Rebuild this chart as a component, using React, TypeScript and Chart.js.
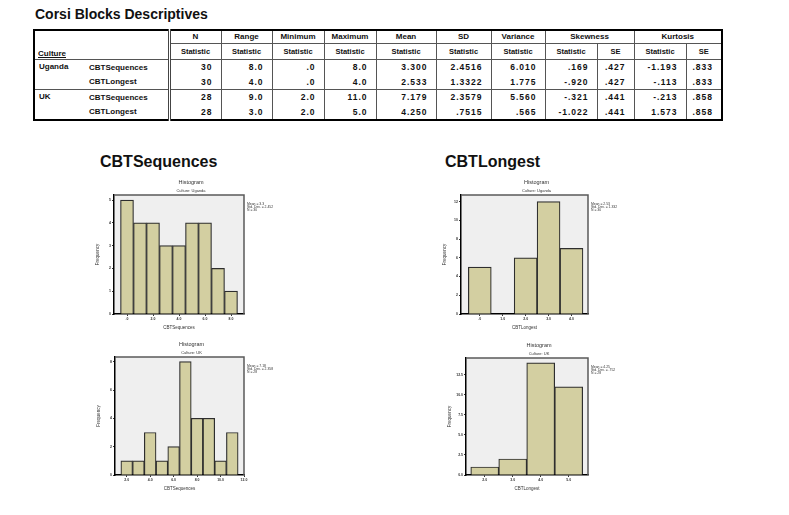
import React, { useEffect, useRef } from "react";
import { Chart, registerables } from "chart.js";

Chart.register(...registerables);

// ---------- Table data ----------
const pageTitle = "Corsi Blocks Descriptives";
const topHeaders = ["N", "Range", "Minimum", "Maximum", "Mean", "SD", "Variance"];
const spanHeaders = ["Skewness", "Kurtosis"];
const subHeaders = ["Statistic", "Statistic", "Statistic", "Statistic", "Statistic", "Statistic", "Statistic", "Statistic", "SE", "Statistic", "SE"];
const cultures = ["Uganda", "UK"];
const variables = ["CBTSequences", "CBTLongest"];
const ugandaSeqRow = ["30", "8.0", ".0", "8.0", "3.300", "2.4516", "6.010", ".169", ".427", "-1.193", ".833"];
const ugandaLongRow = ["30", "4.0", ".0", "4.0", "2.533", "1.3322", "1.775", "-.920", ".427", "-.113", ".833"];
const ukSeqRow = ["28", "9.0", "2.0", "11.0", "7.179", "2.3579", "5.560", "-.321", ".441", "-.213", ".858"];
const ukLongRow = ["28", "3.0", "2.0", "5.0", "4.250", ".7515", ".565", "-1.022", ".441", "1.573", ".858"];

// ---------- Histogram data ----------
const ugSeqBins = [0, 1, 2, 3, 4, 5, 6, 7, 8];
const ugSeqFreq = [5, 4, 4, 3, 3, 4, 4, 2, 1];
const ugSeqXTicks = [0, 2, 4, 6, 8];
const ugSeqYTicks = [0, 1, 2, 3, 4, 5];
const ugSeqStats = ["Mean = 3.3", "Std. Dev. = 2.452", "N = 30"];

const ugLongBins = [0, 1, 2, 3, 4];
const ugLongFreq = [5, 0, 6, 12, 7];
const ugLongXTicks = [0, 1, 2, 3, 4];
const ugLongYTicks = [0, 2, 4, 6, 8, 10, 12];
const ugLongStats = ["Mean = 2.53", "Std. Dev. = 1.332", "N = 30"];

const ukSeqBins = [2, 3, 4, 5, 6, 7, 8, 9, 10, 11];
const ukSeqFreq = [1, 1, 3, 1, 2, 8, 4, 4, 1, 3];
const ukSeqXTicks = [2, 4, 6, 8, 10, 12];
const ukSeqYTicks = [0, 2, 4, 6, 8];
const ukSeqStats = ["Mean = 7.18", "Std. Dev. = 2.358", "N = 28"];

const ukLongBins = [2, 3, 4, 5];
const ukLongFreq = [1, 2, 14, 11];
const ukLongXTicks = [2, 3, 4, 5];
const ukLongYTicks = [0, 2.5, 5, 7.5, 10, 12.5];
const ukLongStats = ["Mean = 4.25", "Std. Dev. = .752", "N = 28"];

const FONT = '"Liberation Sans", Arial, sans-serif';

const fmtDec1 = (v: number) => (v === 0 ? ".0" : v.toFixed(1));
const fmtInt = (v: number) => String(v);
const fmtDec1Zero = (v: number) => v.toFixed(1);

type HistProps = {
  box: [number, number, number, number];
  bins: number[];
  freq: number[];
  xMin: number;
  xMax: number;
  yMax: number;
  xTicks: number[];
  yTicks: number[];
  xFmt: (v: number) => string;
  yFmt: (v: number) => string;
  xTitle: string;
  culture: string;
  stats: string[];
};

const PAD_L = 24;
const PAD_T = 22;
const PAD_R = 48;
const PAD_B = 18;

function Histogram(p: HistProps) {
  const ref = useRef<HTMLCanvasElement>(null);
  const [l, t, r, b] = p.box;
  const w = r - l + PAD_L + PAD_R;
  const h = b - t + PAD_T + PAD_B;

  useEffect(() => {
    const decor = {
      id: "decor",
      beforeDraw(chart: any) {
        const { ctx, chartArea: a } = chart;
        ctx.save();
        ctx.fillStyle = "#EFEFEF";
        ctx.fillRect(a.left, a.top, a.right - a.left, a.bottom - a.top);
        ctx.restore();
      },
      afterDraw(chart: any) {
        const { ctx, chartArea: a } = chart;
        ctx.save();
        ctx.strokeStyle = "#5a5a5a";
        ctx.lineWidth = 1.5;
        ctx.beginPath();
        ctx.moveTo(a.left, a.top);
        ctx.lineTo(a.right, a.top);
        ctx.lineTo(a.right, a.bottom);
        ctx.stroke();
        ctx.fillStyle = "#333";
        ctx.textAlign = "center";
        ctx.textBaseline = "middle";
        const cx = (a.left + a.right) / 2 + 12;
        ctx.font = `5.5px ${FONT}`;
        ctx.fillText("Histogram", cx, a.top - 13);
        ctx.font = `4px ${FONT}`;
        ctx.fillText(`Culture: ${p.culture}`, cx, a.top - 4);
        ctx.textAlign = "left";
        ctx.font = `3.4px ${FONT}`;
        p.stats.forEach((s, i) => ctx.fillText(s, a.right + 3, a.top + 9 + i * 3));
        ctx.restore();
      },
    };

    const chart = new Chart(ref.current!, {
      type: "bar",
      data: {
        datasets: [
          {
            data: p.bins.map((x, i) => ({ x, y: p.freq[i] })),
            backgroundColor: "#D3CFA1",
            borderColor: "#2e2e2e",
            borderWidth: 1.2,
            barPercentage: 1,
            categoryPercentage: 1,
          },
        ],
      },
      options: {
        responsive: false,
        animation: false,
        layout: { padding: { left: PAD_L - 22, top: PAD_T, right: PAD_R, bottom: PAD_B - 16 } },
        plugins: { legend: { display: false }, tooltip: { enabled: false }, title: { display: false } },
        scales: {
          x: {
            type: "linear",
            offset: false,
            min: p.xMin,
            max: p.xMax,
            afterBuildTicks: (s: any) => {
              s.ticks = p.xTicks.map((v) => ({ value: v }));
            },
            afterFit: (s: any) => {
              s.height = 16;
            },
            grid: { display: true, drawOnChartArea: false, drawTicks: true, tickLength: 2, color: "#000", lineWidth: 0.8, offset: false },
            border: { display: true, color: "#000", width: 1.5 },
            ticks: {
              autoSkip: false,
              maxRotation: 0,
              padding: 1,
              color: "#333",
              font: { family: FONT, size: 3.5, weight: "bold" },
              callback: (v: any) => p.xFmt(Number(v)),
            },
            title: { display: true, text: p.xTitle, color: "#333", padding: 0, font: { family: FONT, size: 4.5 } },
          },
          y: {
            type: "linear",
            min: 0,
            max: p.yMax,
            afterBuildTicks: (s: any) => {
              s.ticks = p.yTicks.map((v) => ({ value: v }));
            },
            afterFit: (s: any) => {
              s.width = 22;
            },
            grid: { display: true, drawOnChartArea: false, drawTicks: true, tickLength: 2, color: "#000", lineWidth: 0.8 },
            border: { display: true, color: "#000", width: 1.5 },
            ticks: {
              autoSkip: false,
              padding: 1,
              color: "#333",
              font: { family: FONT, size: 3.5, weight: "bold" },
              callback: (v: any) => p.yFmt(Number(v)),
            },
            title: { display: true, text: "Frequency", color: "#333", padding: { top: 3, bottom: 0 }, font: { family: FONT, size: 4.5 } },
          },
        },
      },
      plugins: [decor],
    } as any);
    return () => chart.destroy();
  }, []);

  return (
    <canvas
      ref={ref}
      width={w}
      height={h}
      style={{ position: "absolute", left: l - PAD_L, top: t - PAD_T, width: w, height: h }}
    />
  );
}

const colWidths = [51, 84, 52, 51, 52, 52, 60, 55, 54, 52, 37, 52, 36];
const LINE = "1px solid #555";

function DescTable() {
  const groups = [
    { culture: cultures[0], rows: [ugandaSeqRow, ugandaLongRow] },
    { culture: cultures[1], rows: [ukSeqRow, ukLongRow] },
  ];
  const cellBase: React.CSSProperties = { padding: 0, overflow: "hidden", whiteSpace: "nowrap" };
  return (
    <table
      style={{
        position: "absolute",
        left: 33,
        top: 29,
        width: 688,
        borderCollapse: "collapse",
        tableLayout: "fixed",
        border: "2px solid #000",
        fontFamily: FONT,
        fontSize: 8,
        fontWeight: "bold",
        color: "#111",
      }}
    >
      <colgroup>
        {colWidths.map((cw, i) => (
          <col key={i} style={{ width: cw }} />
        ))}
      </colgroup>
      <tbody>
        <tr style={{ height: 13 }}>
          <td
            colSpan={2}
            rowSpan={2}
            style={{ ...cellBase, verticalAlign: "bottom", paddingLeft: 3, paddingBottom: 1, borderRight: "3px double #444", borderBottom: LINE }}
          >
            <span style={{ textDecoration: "underline" }}>Culture</span>
          </td>
          {topHeaders.map((hd, i) => (
            <td key={i} style={{ ...cellBase, textAlign: "center", borderRight: LINE, borderBottom: LINE, lineHeight: "12px" }}>
              {hd}
            </td>
          ))}
          {spanHeaders.map((hd, i) => (
            <td key={i} colSpan={2} style={{ ...cellBase, textAlign: "center", borderRight: LINE, borderBottom: LINE, lineHeight: "12px" }}>
              {hd}
            </td>
          ))}
        </tr>
        <tr style={{ height: 16 }}>
          {subHeaders.map((hd, i) => (
            <td key={i} style={{ ...cellBase, textAlign: "center", borderRight: LINE, borderBottom: LINE, fontSize: 7.5 }}>
              {hd}
            </td>
          ))}
        </tr>
        {groups.map((g, gi) =>
          g.rows.map((row, ri) => (
            <tr key={`${gi}-${ri}`} style={{ height: 15 }}>
              {ri === 0 && (
                <td rowSpan={2} style={{ ...cellBase, verticalAlign: "top", paddingLeft: 4, paddingTop: 2, borderBottom: gi === 0 ? LINE : "none" }}>
                  {g.culture}
                </td>
              )}
              <td style={{ ...cellBase, paddingLeft: 4, borderRight: "3px double #444", borderBottom: gi === 0 && ri === 1 ? LINE : "none" }}>
                {variables[ri]}
              </td>
              {row.map((v, ci) => (
                <td
                  key={ci}
                  style={{
                    ...cellBase,
                    textAlign: "right",
                    paddingRight: 8,
                    letterSpacing: 1,
                    fontSize: 8.5,
                    borderRight: LINE,
                    borderBottom: gi === 0 && ri === 1 ? LINE : "none",
                  }}
                >
                  {v}
                </td>
              ))}
            </tr>
          ))
        )}
      </tbody>
    </table>
  );
}

export default function App() {
  return (
    <div style={{ position: "absolute", left: 0, top: 0, width: 789, height: 515, background: "#fff", fontFamily: FONT, overflow: "hidden" }}>
      <div style={{ position: "absolute", left: 35, top: 6, fontSize: 14, fontWeight: "bold", color: "#111", whiteSpace: "nowrap" }}>
        {pageTitle}
      </div>
      <DescTable />
      <div style={{ position: "absolute", left: 100, top: 153, fontSize: 16, fontWeight: "bold", color: "#111" }}>{variables[0]}</div>
      <div style={{ position: "absolute", left: 445, top: 153, fontSize: 16, fontWeight: "bold", color: "#111" }}>{variables[1]}</div>
      <Histogram
        box={[114, 195, 244, 314]}
        bins={ugSeqBins}
        freq={ugSeqFreq}
        xMin={-1}
        xMax={9}
        yMax={5.22}
        xTicks={ugSeqXTicks}
        yTicks={ugSeqYTicks}
        xFmt={fmtDec1}
        yFmt={fmtInt}
        xTitle={variables[0]}
        culture={cultures[0]}
        stats={ugSeqStats}
      />
      <Histogram
        box={[461, 195, 588, 314]}
        bins={ugLongBins}
        freq={ugLongFreq}
        xMin={-0.82}
        xMax={4.72}
        yMax={12.7}
        xTicks={ugLongXTicks}
        yTicks={ugLongYTicks}
        xFmt={fmtDec1}
        yFmt={fmtInt}
        xTitle={variables[1]}
        culture={cultures[0]}
        stats={ugLongStats}
      />
      <Histogram
        box={[115, 357, 244, 475]}
        bins={ukSeqBins}
        freq={ukSeqFreq}
        xMin={1}
        xMax={12}
        yMax={8.33}
        xTicks={ukSeqXTicks}
        yTicks={ukSeqYTicks}
        xFmt={fmtDec1}
        yFmt={fmtInt}
        xTitle={variables[0]}
        culture={cultures[1]}
        stats={ukSeqStats}
      />
      <Histogram
        box={[466, 358, 588, 475]}
        bins={ukLongBins}
        freq={ukLongFreq}
        xMin={1.33}
        xMax={5.69}
        yMax={14.6}
        xTicks={ukLongXTicks}
        yTicks={ukLongYTicks}
        xFmt={fmtDec1}
        yFmt={fmtDec1Zero}
        xTitle={variables[1]}
        culture={cultures[1]}
        stats={ukLongStats}
      />
    </div>
  );
}
